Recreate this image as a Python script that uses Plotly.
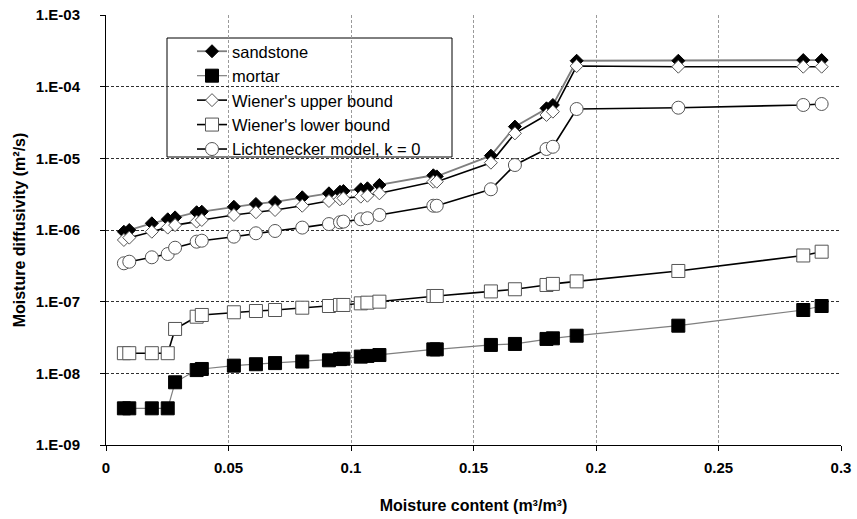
import plotly.graph_objects as go

moisture = [0.0073, 0.0095, 0.0187, 0.0252, 0.0282, 0.0370, 0.0391, 0.0522, 0.0612,
            0.0690, 0.0801, 0.0910, 0.0955, 0.0969, 0.1040, 0.1067, 0.1116, 0.1336,
            0.1350, 0.1571, 0.1669, 0.1798, 0.1824, 0.1921, 0.2336, 0.2846, 0.2921]

sandstone = [9.46e-7, 1.0e-6, 1.24e-6, 1.41e-6, 1.50e-6, 1.77e-6, 1.80e-6, 2.11e-6, 2.31e-6,
             2.46e-6, 2.86e-6, 3.25e-6, 3.42e-6, 3.50e-6, 3.70e-6, 3.82e-6, 4.25e-6, 5.8e-6,
             5.6e-6, 1.09e-5, 2.77e-5, 4.99e-5, 5.55e-5, 2.30e-4, 2.30e-4, 2.35e-4, 2.35e-4]

mortar = [3.25e-9, 3.25e-9, 3.25e-9, 3.25e-9, 7.5e-9, 1.11e-8, 1.15e-8, 1.28e-8, 1.34e-8,
          1.39e-8, 1.46e-8, 1.52e-8, 1.58e-8, 1.60e-8, 1.71e-8, 1.75e-8, 1.80e-8, 2.16e-8,
          2.16e-8, 2.49e-8, 2.57e-8, 3.02e-8, 3.08e-8, 3.35e-8, 4.62e-8, 7.65e-8, 8.70e-8]

wiener_upper = [7.26e-7, 7.82e-7, 9.46e-7, 1.08e-6, 1.17e-6, 1.31e-6, 1.38e-6, 1.62e-6, 1.77e-6,
                1.90e-6, 2.18e-6, 2.54e-6, 2.68e-6, 2.77e-6, 2.92e-6, 3.01e-6, 3.25e-6, 4.72e-6,
                4.72e-6, 8.69e-6, 2.23e-5, 4.03e-5, 4.48e-5, 1.94e-4, 1.90e-4, 1.90e-4, 1.90e-4]

wiener_lower = [1.91e-8, 1.91e-8, 1.91e-8, 1.91e-8, 4.16e-8, 6.17e-8, 6.52e-8, 7.11e-8, 7.41e-8,
                7.65e-8, 8.24e-8, 8.70e-8, 8.99e-8, 8.99e-8, 9.48e-8, 9.68e-8, 1.0e-7, 1.2e-7,
                1.2e-7, 1.39e-7, 1.49e-7, 1.71e-7, 1.77e-7, 1.92e-7, 2.68e-7, 4.41e-7, 4.98e-7]

lichtenecker = [3.43e-7, 3.61e-7, 4.16e-7, 4.62e-7, 5.66e-7, 6.87e-7, 7.09e-7, 8.07e-7, 9.0e-7,
                9.69e-7, 1.08e-6, 1.21e-6, 1.28e-6, 1.31e-6, 1.41e-6, 1.46e-6, 1.62e-6, 2.18e-6,
                2.18e-6, 3.70e-6, 8.07e-6, 1.35e-5, 1.45e-5, 4.88e-5, 5.09e-5, 5.55e-5, 5.73e-5]

y_tickvals = [1e-9, 1e-8, 1e-7, 1e-6, 1e-5, 1e-4, 1e-3]
y_ticktext = ["1.E-09", "1.E-08", "1.E-07", "1.E-06", "1.E-05", "1.E-04", "1.E-03"]
x_tickvals = [0, 0.05, 0.1, 0.15, 0.2, 0.25, 0.3]
x_ticktext = ["0", "0.05", "0.1", "0.15", "0.2", "0.25", "0.3"]

series = [
    ("sandstone", sandstone, dict(symbol="diamond", size=10, color="black",
                                  line=dict(color="black", width=1)), dict(color="#7f7f7f", width=1.8)),
    ("mortar", mortar, dict(symbol="square", size=13, color="black",
                            line=dict(color="black", width=1)), dict(color="#7f7f7f", width=1.2)),
    ("Wiener's upper bound", wiener_upper, dict(symbol="diamond", size=10, color="white",
                                                 line=dict(color="#555555", width=1)), dict(color="black", width=1.6)),
    ("Wiener's lower bound", wiener_lower, dict(symbol="square", size=13, color="white",
                                                 line=dict(color="#555555", width=1)), dict(color="black", width=1.6)),
    ("Lichtenecker model, k = 0", lichtenecker, dict(symbol="circle", size=13, color="white",
                                                     line=dict(color="#555555", width=1)), dict(color="black", width=1.6)),
]

fig = go.Figure()
for i, (name, vals, mk, ln) in enumerate(series):
    fig.add_trace(go.Scatter(x=moisture, y=vals, name=name, mode="lines+markers",
                             marker=mk, line=ln, legendgroup=f"g{i}"))

font_family = "Liberation Sans, Arial, sans-serif"

# legend frame
fig.add_shape(type="rect", xref="paper", yref="paper",
              x0=(167 - 106) / 735, x1=(452 - 106) / 735,
              y0=(445 - 157) / 430, y1=(445 - 38) / 430,
              line=dict(color="black", width=1), fillcolor="white", layer="between")

fig.update_layout(
    width=857, height=519,
    margin=dict(l=106, r=16, t=15, b=74, autoexpand=False),
    paper_bgcolor="white", plot_bgcolor="white",
    font=dict(family=font_family, color="black"),
    showlegend=True,
    legend=dict(x=(192 - 106) / 735, y=(445 - 34) / 430, xanchor="left", yanchor="top",
                bgcolor="rgba(0,0,0,0)", borderwidth=0,
                font=dict(size=16.5, family=font_family, color="black"),
                traceorder="grouped", tracegroupgap=0, itemwidth=30),
    xaxis=dict(range=[0, 0.3], tickvals=x_tickvals, ticktext=x_ticktext,
               showgrid=True, gridcolor="#9a9a9a", griddash="3px,2px", gridwidth=1,
               showline=True, linecolor="black", linewidth=1,
               ticks="outside", ticklen=5, tickcolor="black", automargin=False,
               ticklabelstandoff=4,
               tickfont=dict(size=15, weight="bold", family=font_family),
               title=dict(text="Moisture content (m³/m³)", standoff=24,
                          font=dict(size=16, weight="bold", family=font_family)),
               zeroline=False),
    yaxis=dict(type="log", range=[-9, -3], tickvals=y_tickvals, ticktext=y_ticktext,
               showgrid=True, gridcolor="#303030", griddash="3px,2px", gridwidth=1,
               showline=True, linecolor="black", linewidth=1,
               ticks="outside", ticklen=5, tickcolor="black", automargin=False,
               ticklabelstandoff=17,
               tickfont=dict(size=15, weight="bold", family=font_family),
               title=dict(text="Moisture diffusivity (m²/s)", standoff=6,
                          font=dict(size=16, weight="bold", family=font_family)),
               zeroline=False),
)

fig.write_html("out.html", config={"displayModeBar": False},
               post_script="document.body.style.margin='0';document.body.style.overflow='hidden';")
